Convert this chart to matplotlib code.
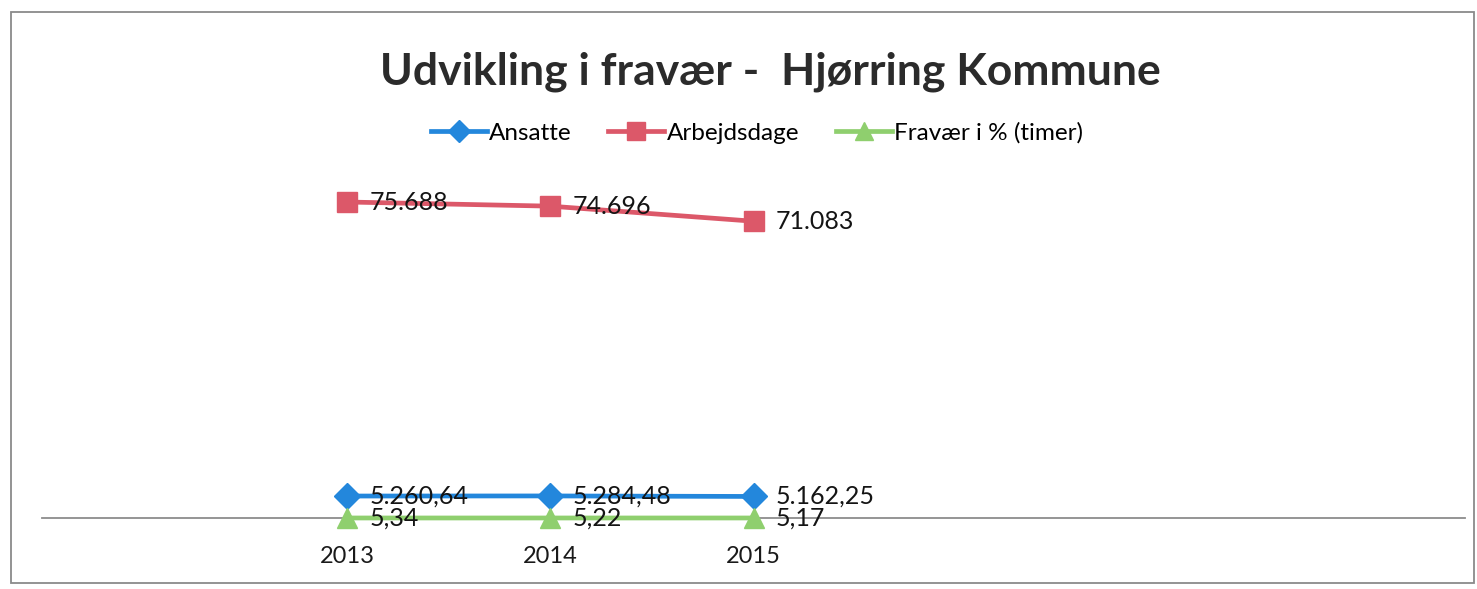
import matplotlib
matplotlib.use("Agg")
import matplotlib.pyplot as plt
from matplotlib.patches import Rectangle

# Data
years = ["2013", "2014", "2015"]
ansatte = [5260.64, 5284.48, 5162.25]
arbejdsdage = [75688, 74696, 71083]
fravaer = [5.34, 5.22, 5.17]

series = [
    ("Ansatte", ansatte, 2, "#2387dc", "D", 13),
    ("Arbejdsdage", arbejdsdage, 0, "#dc5869", "s", 15),
    ("Fravær i % (timer)", fravaer, 2, "#8fcf6e", "^", 15),
]


def dk_format(value, decimals):
    # Danish number style: '.' for thousands, ',' for decimals
    s = f"{value:,.{decimals}f}"
    return s.replace(",", "X").replace(".", ",").replace("X", ".")


plt.rcParams["font.family"] = ["Lato", "DejaVu Sans"]

W, H = 1477, 589
fig = plt.figure(figsize=(W / 100, H / 100), dpi=100)
fig.patch.set_facecolor("white")

# plot area in pixels (left, top, right, bottom)
left, top, right, bottom = 42, 184, 1465, 518
ax = fig.add_axes([left / W, 1 - bottom / H, (right - left) / W, (bottom - top) / H])

x = list(range(len(years)))
handles = []
for name, vals, dec, color, marker, ms in series:
    (h,) = ax.plot(x, vals, color=color, lw=3.4, marker=marker, ms=ms,
                   markerfacecolor=color, markeredgecolor=color,
                   label=name, clip_on=False, zorder=3)
    handles.append(h)
    for xi, v in zip(x, vals):
        ax.annotate(dk_format(v, dec), (xi, v), xytext=(16, 0),
                    textcoords="offset points", ha="left", va="center",
                    fontsize=18, color="#141414", zorder=4)

ax.set_xlim(-1.5, 5.5)
ax.set_ylim(0, 80000)
ax.set_xticks(x)
ax.set_xticklabels(years, fontsize=17, color="#1a1a1a")
ax.tick_params(axis="x", length=0, pad=20)
ax.set_yticks([])
for side in ["left", "right", "top"]:
    ax.spines[side].set_visible(False)
ax.spines["bottom"].set_color("#8c8c8c")
ax.spines["bottom"].set_linewidth(1.3)
ax.set_facecolor("none")

fig.text(770 / W, 1 - 72 / H, "Udvikling i fravær -  Hjørring Kommune",
         ha="center", va="center", fontsize=32, fontweight="bold", color="#2b2b2b")

fig.legend(handles=handles, loc="center", bbox_to_anchor=(757 / W, 1 - 133 / H),
           ncol=3, frameon=False, fontsize=17.5, handlelength=2.3,
           handletextpad=0.1, columnspacing=1.5, markerscale=0.85)

# outer chart border
fig.patches.append(Rectangle((11 / W, 1 - 583 / H), (1474 - 11) / W, (583 - 12) / H,
                             transform=fig.transFigure, fill=False,
                             edgecolor="#8a8a8a", lw=1.3))

fig.savefig("out.png", dpi=100)
